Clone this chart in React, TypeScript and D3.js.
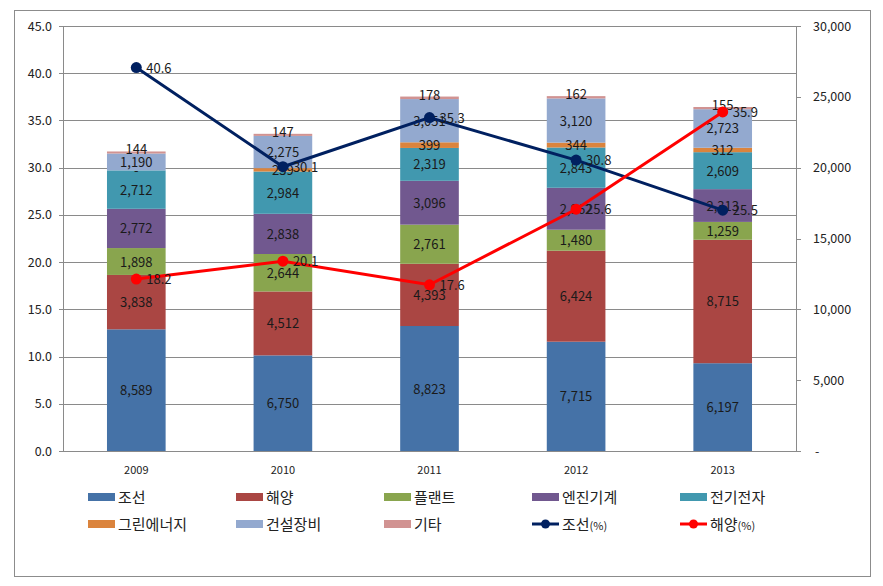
import React from "react";
import * as d3 from "d3";

const years = ["2009", "2010", "2011", "2012", "2013"];
const seriesNames = ["조선", "해양", "플랜트", "엔진기계", "전기전자", "그린에너지", "건설장비", "기타"];
const shipbuilding = [8589, 6750, 8823, 7715, 6197];
const offshore = [3838, 4512, 4393, 6424, 8715];
const plant = [1898, 2644, 2761, 1480, 1259];
const engine = [2772, 2838, 3096, 2962, 2313];
const electric = [2712, 2984, 2319, 2843, 2609];
const greenEnergy = [0, 239, 399, 344, 312];
const construction = [1190, 2275, 3051, 3120, 2723];
const others = [144, 147, 178, 162, 155];
const shipPct = [40.6, 30.1, 35.3, 30.8, 25.5];
const offshorePct = [18.2, 20.1, 17.6, 25.6, 35.9];
const leftTicks = [0, 5, 10, 15, 20, 25, 30, 35, 40, 45];
const rightTicks = [0, 5000, 10000, 15000, 20000, 25000, 30000];

const barColors = ["#4572A7", "#AA4643", "#89A54E", "#71588F", "#4198AF", "#DB843D", "#93A9CF", "#D19392"];
const lineColors = ["#002060", "#FF0000"];
const lineNames = ["조선(%)", "해양(%)"];

const W = 883, H = 586;
const PL = 63, PR = 796, PT = 26, PB = 451;
const FONT = "'Noto Sans CJK KR', 'DejaVu Sans', sans-serif";

export default function App() {
  const seriesData = [shipbuilding, offshore, plant, engine, electric, greenEnergy, construction, others];
  const x = d3.scaleBand<string>().domain(years).range([PL, PR]).paddingInner(0).paddingOuter(0);
  const barW = x.bandwidth() * 0.4;
  const yL = d3.scaleLinear().domain([0, 45]).range([PB, PT]);
  const yR = d3.scaleLinear().domain([0, 30000]).range([PB, PT]);
  const cx = (y: string) => (x(y) as number) + x.bandwidth() / 2;

  const rows = years.map((yr, i) => {
    const obj: any = { year: yr };
    seriesNames.forEach((s, k) => (obj[s] = seriesData[k][i]));
    return obj;
  });
  const stack = d3.stack<any>().keys(seriesNames)(rows);
  const fmt = d3.format(",");
  const line = d3.line<number>().x((_, i) => cx(years[i])).y((v) => yL(v));

  return (
    <svg width={W} height={H} style={{ position: "absolute", left: 0, top: 0, fontFamily: FONT }}>
      <rect x={0} y={0} width={W} height={H} fill="#fff" />
      <rect x={14.5} y={10.5} width={856} height={566} fill="#fff" stroke="#8c8c8c" strokeWidth={1} />
      {leftTicks.map((t) => (
        <g key={t}>
          <line x1={PL - 4} x2={PR} y1={Math.round(yL(t)) + 0.5} y2={Math.round(yL(t)) + 0.5} stroke="#8a8a8a" strokeWidth={1} />
          <text x={52} y={yL(t) + 4.5} textAnchor="end" fontSize={12.5} fill="#222">{t.toFixed(1)}</text>
        </g>
      ))}
      <line x1={PL + 0.5} x2={PL + 0.5} y1={PT} y2={PB} stroke="#8a8a8a" />
      <line x1={PR + 0.5} x2={PR + 0.5} y1={PT} y2={PB} stroke="#8a8a8a" />
      {rightTicks.map((t) => (
        <g key={t}>
          <line x1={PR} x2={PR + 5} y1={Math.round(yR(t)) + 0.5} y2={Math.round(yR(t)) + 0.5} stroke="#8a8a8a" />
          <text x={t === 0 ? 815 : 813} y={yR(t) + 4.5} textAnchor="start" fontSize={12.5} fill="#222">{t === 0 ? "-" : fmt(t)}</text>
        </g>
      ))}
      {stack.map((layer, k) => (
        <g key={seriesNames[k]}>
          {layer.map((d, i) => (
            <rect key={i} x={cx(years[i]) - barW / 2} y={yR(d[1])} width={barW} height={Math.max(0, yR(d[0]) - yR(d[1]))} fill={barColors[k]} />
          ))}
        </g>
      ))}
      {stack.map((layer, k) => (
        <g key={"l" + seriesNames[k]}>
          {layer.map((d, i) => {
            const v = seriesData[k][i];
            const mid = k === 7 ? yR(d[1]) - 2 : (yR(d[0]) + yR(d[1])) / 2;
            return (
              <text key={i} x={cx(years[i])} y={mid + 5} textAnchor="middle" fontSize={13} fill="#1a1a1a">
                {v === 0 ? "-" : fmt(v)}
              </text>
            );
          })}
        </g>
      ))}
      {[shipPct, offshorePct].map((vals, j) => (
        <g key={"line" + j}>
          <path d={line(vals) as string} fill="none" stroke={lineColors[j]} strokeWidth={3} />
          {vals.map((v, i) => (
            <circle key={i} cx={cx(years[i])} cy={yL(v)} r={5.5} fill={lineColors[j]} />
          ))}
          {vals.map((v, i) => (
            <text key={"t" + i} x={cx(years[i]) + 10} y={yL(v) + 5} fontSize={13} fill="#1a1a1a">{v.toFixed(1)}</text>
          ))}
        </g>
      ))}
      {years.map((yr) => (
        <text key={yr} x={cx(yr)} y={474} textAnchor="middle" fontSize={11} fill="#222">{yr}</text>
      ))}
      {seriesNames.map((s, k) => {
        const col = k % 5, row = Math.floor(k / 5);
        const lx = 88 + col * 148, ly = 497 + row * 27;
        return (
          <g key={"lg" + s}>
            <rect x={lx} y={ly - 4} width={27} height={8} fill={barColors[k]} />
            <text x={lx + 30} y={ly + 6} fontSize={15} fill="#222">{s}</text>
          </g>
        );
      })}
      {lineNames.map((s, j) => {
        const k = 8 + j;
        const col = k % 5, row = Math.floor(k / 5);
        const lx = 88 + col * 148, ly = 497 + row * 27;
        return (
          <g key={"ll" + s}>
            <line x1={lx} x2={lx + 27} y1={ly} y2={ly} stroke={lineColors[j]} strokeWidth={3} />
            <circle cx={lx + 13.5} cy={ly} r={4.5} fill={lineColors[j]} />
            <text x={lx + 30} y={ly + 6} fontSize={15} fill="#222">
              {s.replace("(%)", "")}
              <tspan fontSize={11}>(%)</tspan>
            </text>
          </g>
        );
      })}
    </svg>
  );
}
